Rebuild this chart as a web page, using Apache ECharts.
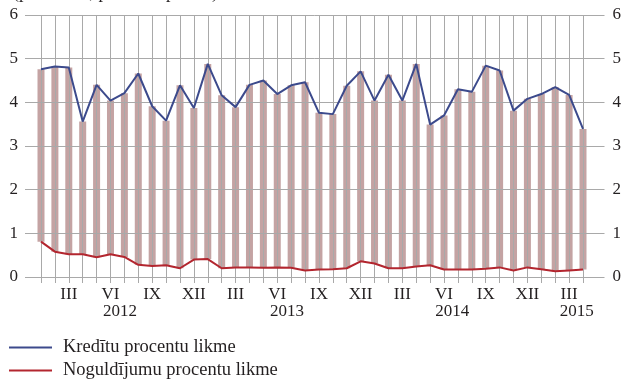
<!DOCTYPE html>
<html>
<head>
<meta charset="utf-8">
<script src="https://cdn.jsdelivr.net/npm/echarts@6/dist/echarts.min.js"></script>
<style>
    html, body { margin: 0; padding: 0; background: #fff; }
    #chart { width: 624px; height: 381px; }
</style>
</head>
<body>
<div id="chart"></div>
<script>
// Jan 2012 .. Apr 2015, monthly
var romans = ['I', 'II', 'III', 'IV', 'V', 'VI', 'VII', 'VIII', 'IX', 'X', 'XI', 'XII'];
var years = ['2012', '2013', '2014', '2015'];
var yearAt = [5.68, 17.7, 29.6, 38.55]; // category position of the year label
var yTicks = [0, 1, 2, 3, 4, 5, 6];

var kredits = [4.76, 4.82, 4.80, 3.56, 4.40, 4.04, 4.21, 4.66, 3.91, 3.58, 4.39, 3.87,
               4.88, 4.16, 3.89, 4.40, 4.50, 4.19, 4.39, 4.46, 3.76, 3.73, 4.38, 4.71,
               4.04, 4.63, 4.04, 4.88, 3.49, 3.70, 4.30, 4.24, 4.84, 4.73, 3.81, 4.08,
               4.19, 4.35, 4.17, 3.39];
var noguldijumi = [0.81, 0.58, 0.52, 0.52, 0.45, 0.52, 0.46, 0.28, 0.25, 0.27, 0.20, 0.40,
                   0.41, 0.20, 0.22, 0.22, 0.21, 0.22, 0.21, 0.15, 0.17, 0.18, 0.20, 0.36,
                   0.31, 0.20, 0.20, 0.24, 0.27, 0.17, 0.17, 0.17, 0.19, 0.22, 0.15, 0.22,
                   0.18, 0.13, 0.15, 0.17];
// starpība (procentu punkti)
var starpiba = [3.95, 4.24, 4.28, 3.04, 3.95, 3.52, 3.75, 4.38, 3.66, 3.31, 4.19, 3.47,
                4.47, 3.96, 3.67, 4.18, 4.29, 3.97, 4.18, 4.31, 3.59, 3.55, 4.18, 4.35,
                3.73, 4.43, 3.84, 4.64, 3.22, 3.53, 4.13, 4.07, 4.65, 4.51, 3.66, 3.86,
                4.01, 4.22, 4.02, 3.22];

var months = [];
for (var i = 0; i < kredits.length; i++) {
    months.push(romans[i % 12]);
}

var font = 'Liberation Serif';
var txt = '#231f20';
var gridCol = '#a9a9a9';

var chart = echarts.init(document.getElementById('chart'));

var option = {
    animation: false,
    textStyle: { fontFamily: font, color: txt },
    title: {
        text: '(procentos; procentu punkti)',
        left: 8,
        top: -21,
        textStyle: { fontFamily: font, fontSize: 18, fontWeight: 'normal', color: txt }
    },
    legend: {
        orient: 'vertical',
        left: 9,
        top: 338,
        padding: 0,
        itemWidth: 43,
        itemHeight: 2,
        itemGap: 4,
        icon: 'rect',
        data: ['Kredītu procentu likme', 'Noguldījumu procentu likme'],
        textStyle: { fontFamily: font, fontSize: 18.5, color: txt, lineHeight: 18, padding: [0, 0, 0, 6] }
    },
    grid: [
        { left: 25, right: 19, top: 15, bottom: 104 },   // horizontal grid + labels
        { left: 41, right: 41, top: 15, bottom: 104 }    // data
    ],
    xAxis: [{
        gridIndex: 0, type: 'value', min: 0, max: 1, show: false
    }, {
        gridIndex: 1,
        type: 'category',
        data: months,
        boundaryGap: false,
        z: 3,
        axisLine: { show: false },
        axisTick: { show: true, interval: 0, length: 6, lineStyle: { color: gridCol } },
        splitLine: { show: true, interval: 0, lineStyle: { color: gridCol, width: 1 } },
        axisLabel: {
            interval: function (index) { return index % 3 === 2; },
            margin: 9,
            fontFamily: font, fontSize: 17, color: txt
        }
    }, {
        gridIndex: 1,
        type: 'value',
        position: 'bottom',
        min: 0,
        max: kredits.length - 1,
        axisLine: { show: false },
        axisTick: { show: false },
        splitLine: { show: false },
        axisLabel: {
            customValues: yearAt,
            margin: 26,
            fontFamily: font, fontSize: 17, color: txt,
            formatter: function (v) {
                var k = yearAt.indexOf(v);
                return k >= 0 ? years[k] : '';
            }
        }
    }],
    yAxis: [{
        gridIndex: 0,
        type: 'value',
        min: yTicks[0], max: yTicks[yTicks.length - 1], interval: 1,
        z: 3,
        axisLine: { show: false },
        axisTick: { show: false },
        splitLine: { lineStyle: { color: gridCol, width: 1 } },
        axisLabel: { margin: 7, fontFamily: font, fontSize: 17, color: txt }
    }, {
        gridIndex: 0,
        type: 'value',
        position: 'right',
        min: yTicks[0], max: yTicks[yTicks.length - 1], interval: 1,
        axisLine: { show: false },
        axisTick: { show: false },
        splitLine: { show: false },
        axisLabel: { margin: 8, fontFamily: font, fontSize: 17, color: txt }
    }, {
        gridIndex: 1,
        type: 'value',
        min: yTicks[0], max: yTicks[yTicks.length - 1], interval: 1,
        show: false
    }],
    series: [{
        name: 'base',
        type: 'bar',
        xAxisIndex: 1, yAxisIndex: 2,
        stack: 'r',
        barWidth: 7,
        silent: true,
        itemStyle: { color: 'rgba(0,0,0,0)' },
        data: noguldijumi,
        z: 2
    }, {
        name: 'Starpība',
        type: 'bar',
        xAxisIndex: 1, yAxisIndex: 2,
        stack: 'r',
        barWidth: 7,
        itemStyle: { color: '#c4a3a3' },
        data: starpiba,
        z: 2
    }, {
        name: 'Kredītu procentu likme',
        type: 'line',
        xAxisIndex: 1, yAxisIndex: 2,
        symbol: 'none',
        color: '#3c4a8c',
        lineStyle: { color: '#3c4a8c', width: 2 },
        data: kredits,
        z: 5
    }, {
        name: 'Noguldījumu procentu likme',
        type: 'line',
        xAxisIndex: 1, yAxisIndex: 2,
        symbol: 'none',
        color: '#b3262f',
        lineStyle: { color: '#b3262f', width: 2 },
        data: noguldijumi,
        z: 5
    }]
};

chart.setOption(option);
</script>
</body>
</html>
